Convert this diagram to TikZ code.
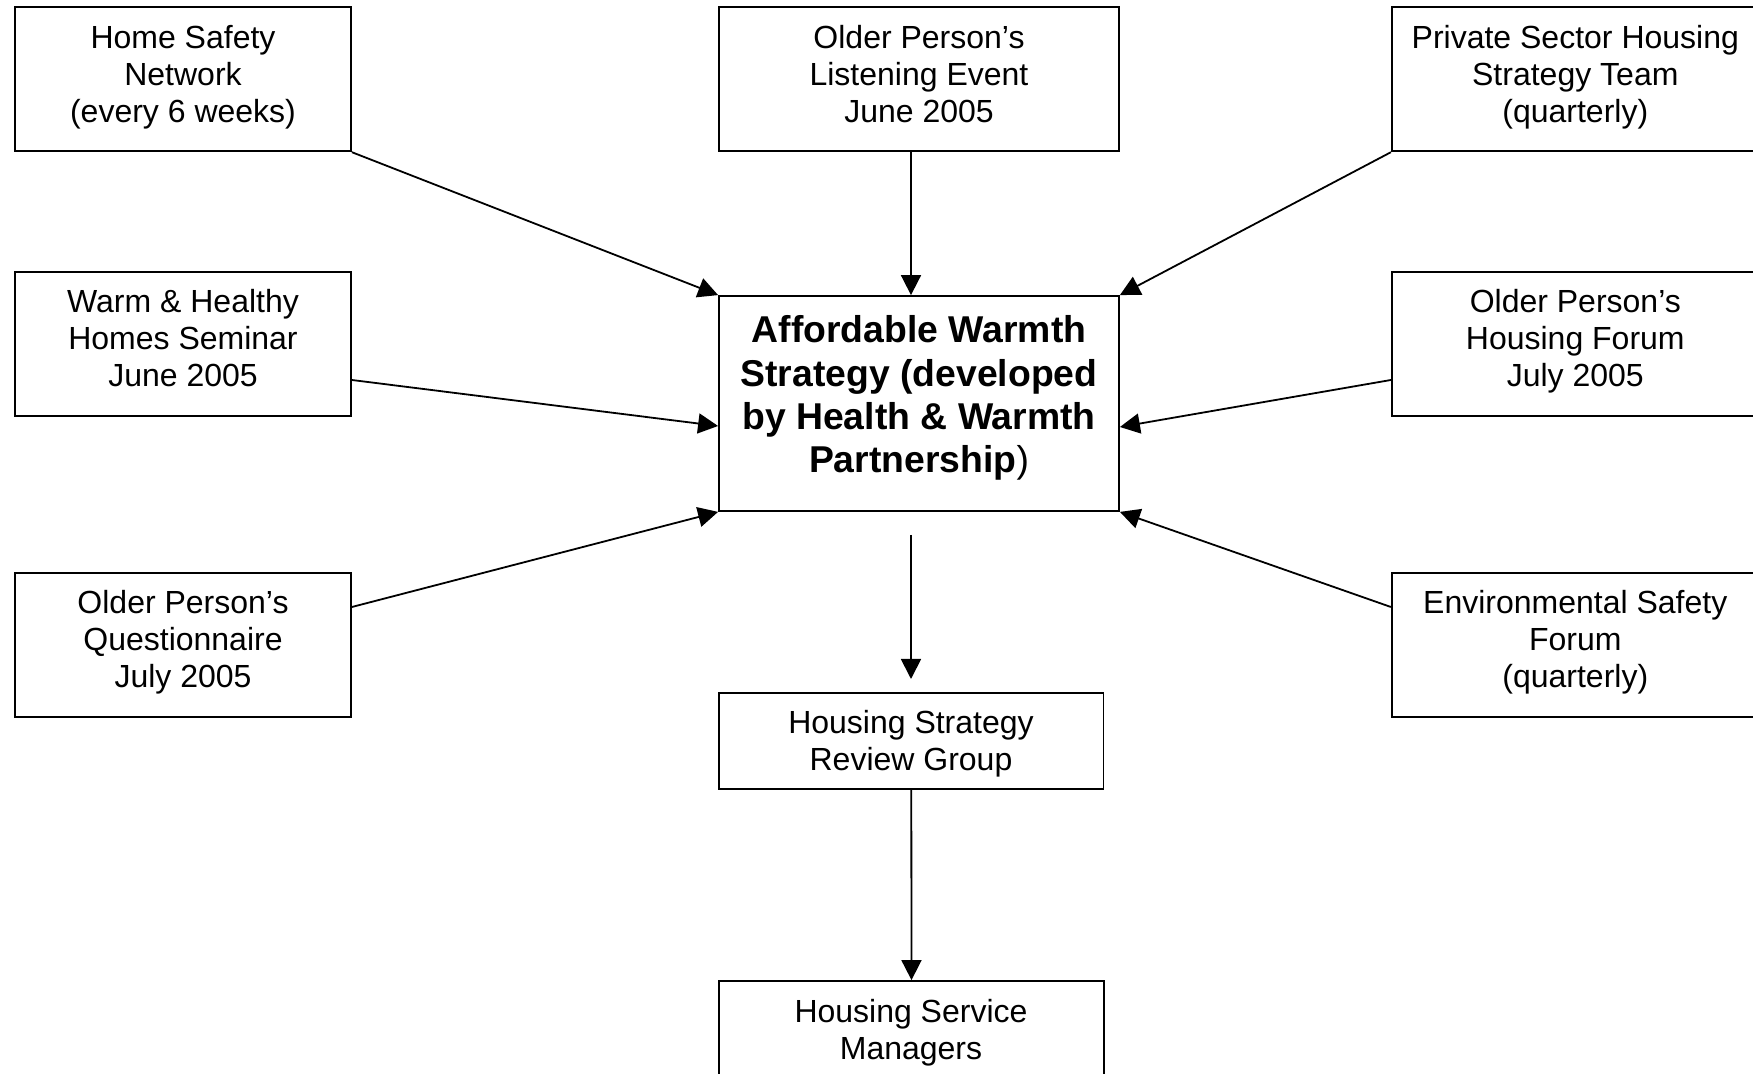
\documentclass[tikz,border=0pt]{standalone}
\usepackage{fontspec}
\setmainfont{Liberation Sans}
\usetikzlibrary{arrows.meta}
\begin{document}
\begin{tikzpicture}[x=0.5pt,y=-0.5pt,
  box/.style={draw, line width=0.9pt, inner sep=0pt},
  sidebox/.style={box, minimum width=168pt, minimum height=72pt},
  txt/.style={align=center, font=\fontsize{16}{18.5}\selectfont, inner sep=0pt},
  btxt/.style={align=center, font=\fontsize{18.67}{21.6}\selectfont\bfseries, inner sep=0pt},
  arr/.style={line width=0.9pt, -{Triangle[length=10pt,width=10pt]}}]
\useasboundingbox (0,0) rectangle (1753,1074);

% boxes
\node[sidebox] (hs) at (183,79.3) {};
\node[box, minimum width=200pt, minimum height=72pt] (ol) at (919,79.3) {};
\node[box, minimum width=184pt, minimum height=72pt] (ps) at (1575.8,79.3) {};
\node[sidebox] (wh) at (183,343.9) {};
\node[box, minimum width=184pt, minimum height=72pt] (of) at (1575.8,343.9) {};
\node[sidebox] (oq) at (183,645.1) {};
\node[box, minimum width=184pt, minimum height=72pt] (es) at (1575.8,645.1) {};
\node[box, minimum width=200pt, minimum height=107.5pt] (cb) at (919,403.5) {};
\node[box, minimum width=192.25pt, minimum height=48pt] (hsr) at (911.3,741) {};
\node[box, minimum width=192.5pt, minimum height=48pt] (hsm) at (911.5,1029) {};

% texts
\node[txt] (hst) at (183,78.3) {\strut Home Safety\\\strut Network\\\strut (every 6 weeks)};
\node[txt] (olt) at (919,78.3) {\strut Older Person’s\\\strut Listening Event\\\strut June 2005};
\node[txt] (pst) at (1575.3,78.3) {\strut Private Sector Housing\\\strut Strategy Team\\\strut (quarterly)};
\node[txt] (wht) at (183,342.3) {\strut Warm \& Healthy\\\strut Homes Seminar\\\strut June 2005};
\node[txt] (oft) at (1575.3,342.3) {\strut Older Person’s\\\strut Housing Forum\\\strut July 2005};
\node[txt] (oqt) at (183,643.3) {\strut Older Person’s\\\strut Questionnaire\\\strut July 2005};
\node[txt] (est) at (1575.3,643.3) {\strut Environmental Safety\\\strut Forum\\\strut (quarterly)};
\node[btxt] (cbt) at (919,399.1) {\strut Affordable Warmth\\\strut Strategy (developed\\\strut by Health \& Warmth\\\strut Partnership{\mdseries )}};
\node[txt] (hsrt) at (911,745) {\strut Housing Strategy\\\strut Review Group};
\node[txt] (hsmt) at (911,1033.3) {\strut Housing Service\\\strut Managers};

% connectors
\draw[arr] (hs.south east) -- (cb.north west);
\draw[arr] (911,0 |- ol.south) -- (911,0 |- cb.north);
\draw[arr] (ps.south west) -- (cb.north east);
\draw[arr] (wh.east |- 0,380) -- (cb.west |- 0,426);
\draw[arr] (of.west |- 0,380) -- (cb.east |- 0,427);
\draw[arr] (oq.east |- 0,607) -- (cb.south west);
\draw[arr] (es.west |- 0,607) -- (cb.south east);
\coordinate (c1) at (911,535);
\coordinate (c2) at (911,679);
\draw[arr] (c1) -- (c2);
\draw[arr] (hsr.south) -- (hsm.north);
\end{tikzpicture}
\end{document}
